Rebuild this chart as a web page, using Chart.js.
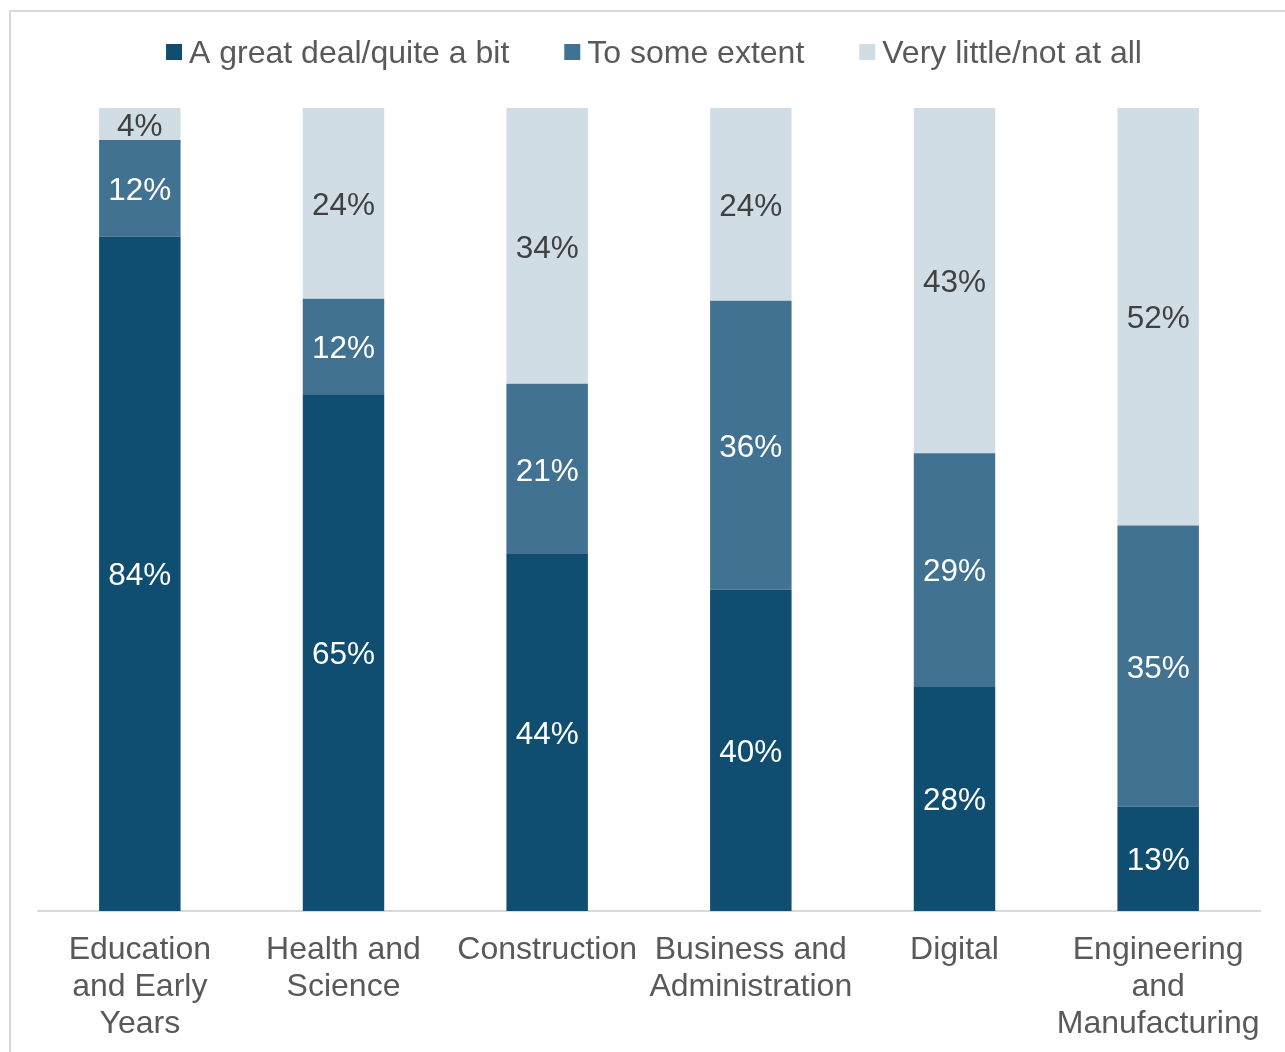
<!DOCTYPE html>
<html>
<head>
<meta charset="utf-8">
<script src="https://cdn.jsdelivr.net/npm/chart.js@4.4.1/dist/chart.umd.min.js"></script>
<style>
  html, body { margin: 0; padding: 0; background: #ffffff; overflow: hidden; }
  #wrap { position: relative; width: 1285px; height: 1052px; }
  #frame {
    position: absolute; left: 9px; top: 10px; width: 1400px; height: 1200px;
    border-left: 2px solid #d9d9d9; border-top: 2px solid #d9d9d9; box-sizing: border-box;
  }
  canvas { position: absolute; left: 0; top: 0; }
</style>
</head>
<body>
<div id="wrap">
  <div id="frame"></div>
  <canvas id="chart" width="1285" height="1052"></canvas>
</div>
<script>
// Route categories (multi-line tick labels)
const categories = [
  ['Education', 'and Early', 'Years'],
  ['Health and', 'Science'],
  ['Construction'],
  ['Business and', 'Administration'],
  ['Digital'],
  ['Engineering', 'and', 'Manufacturing']
];

const seriesNames = ['A great deal/quite a bit', 'To some extent', 'Very little/not at all'];

// Percent of respondents per category
const greatDeal    = [84, 65, 44, 40, 28, 13];
const someExtent   = [12, 12, 21, 36, 29, 35];
const veryLittle   = [4, 24, 34, 24, 43, 52];

const seriesColors = ['#0f4d71', '#417291', '#d0dde5'];
const labelColors  = ['#ffffff', '#ffffff', '#404040'];

const FONT = '"Liberation Sans", Arial, sans-serif';
const LABEL_SIZE = 31.5;
const TEXT_SIZE = 32;

// 100% stacking: each column is scaled to its own total
const raw = [greatDeal, someExtent, veryLittle];
const totals = categories.map((_, i) => raw.reduce((s, arr) => s + arr[i], 0));
const shares = raw.map(arr => arr.map((v, i) => v / totals[i] * 100));

const datasets = raw.map((arr, k) => ({
  label: seriesNames[k],
  data: shares[k],
  rawValues: arr,
  backgroundColor: seriesColors[k],
  borderWidth: 0,
  categoryPercentage: 1.0,
  barPercentage: 0.4
}));

// Value labels centred in each segment
const segmentLabels = {
  id: 'segmentLabels',
  afterDatasetsDraw(chart) {
    const ctx = chart.ctx;
    ctx.save();
    ctx.font = LABEL_SIZE + 'px ' + FONT;
    ctx.textAlign = 'center';
    ctx.textBaseline = 'middle';
    chart.data.datasets.forEach((ds, k) => {
      const meta = chart.getDatasetMeta(k);
      meta.data.forEach((bar, i) => {
        const p = bar.getProps(['x', 'y', 'base'], true);
        ctx.fillStyle = labelColors[k];
        ctx.fillText(ds.rawValues[i] + '%', p.x, (p.y + p.base) / 2 + 3);
      });
    });
    ctx.restore();
  }
};

// Legend row across the top
const topLegend = {
  id: 'topLegend',
  afterDraw(chart) {
    const ctx = chart.ctx;
    ctx.save();
    ctx.font = TEXT_SIZE + 'px ' + FONT;
    ctx.textBaseline = 'middle';
    const box = 16, gapBox = 7, gapItem = 55;
    const widths = chart.data.datasets.map(ds => box + gapBox + ctx.measureText(ds.label).width);
    const total = widths.reduce((a, b) => a + b, 0) + gapItem * (widths.length - 1);
    let x = 654 - total / 2;
    const y = 52;
    chart.data.datasets.forEach((ds, k) => {
      ctx.fillStyle = ds.backgroundColor;
      ctx.fillRect(x, y - box / 2, box, box);
      ctx.fillStyle = '#595959';
      ctx.fillText(ds.label, x + box + gapBox, y + 2);
      x += widths[k] + gapItem;
    });
    ctx.restore();
  }
};

new Chart(document.getElementById('chart'), {
  type: 'bar',
  data: { labels: categories, datasets },
  options: {
    responsive: false,
    animation: false,
    events: [],
    layout: { padding: { top: 108, left: 38, right: 25, bottom: 0 } },
    plugins: {
      legend: { display: false },
      tooltip: { enabled: false }
    },
    scales: {
      x: {
        stacked: true,
        grid: { display: false },
        border: { display: true, color: '#d9d9d9', width: 2 },
        ticks: {
          color: '#595959',
          padding: 13,
          maxRotation: 0,
          autoSkip: false,
          font: { family: FONT, size: TEXT_SIZE, lineHeight: 1.15 }
        },
        afterFit(scale) { scale.height = 141; }
      },
      y: {
        stacked: true,
        display: false,
        min: 0,
        max: 100
      }
    }
  },
  plugins: [segmentLabels, topLegend]
});
</script>
</body>
</html>
